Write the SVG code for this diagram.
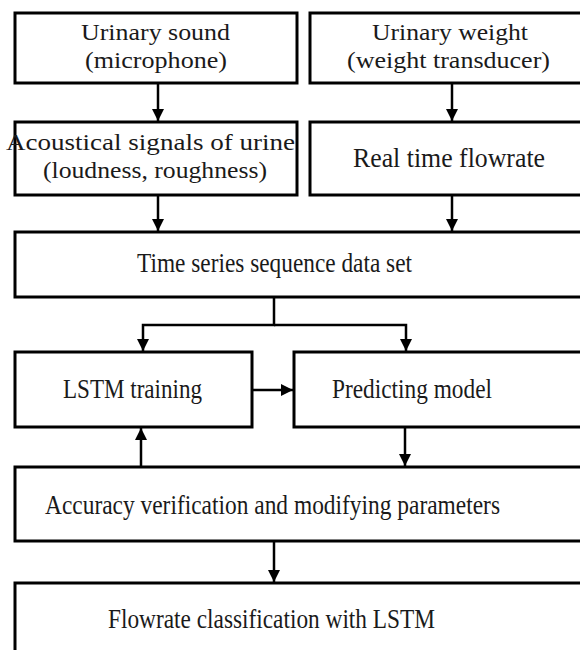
<svg xmlns="http://www.w3.org/2000/svg" width="580" height="650" viewBox="0 0 580 650">
<defs>
<marker id="ah" viewBox="0 0 12 12" markerWidth="12" markerHeight="12" refX="12" refY="6" orient="auto" markerUnits="userSpaceOnUse">
<path d="M0,0 L12,6 L0,12 Z" fill="#000"/>
</marker>
<style>
.box{fill:#fff;stroke:#000;stroke-width:3}
.c{fill:none;stroke:#000;stroke-width:2.5}
</style>
</defs>
<rect width="580" height="650" fill="#fff"/>
<g id="connectors">
<path class="c" d="M158,83 V121" marker-end="url(#ah)"/>
<path class="c" d="M452,83 V121" marker-end="url(#ah)"/>
<path class="c" d="M158,195 V231" marker-end="url(#ah)"/>
<path class="c" d="M452,195 V231" marker-end="url(#ah)"/>
<path class="c" d="M274,297 V325 H143 V351" marker-end="url(#ah)"/>
<path class="c" d="M274,325 H406 V351" marker-end="url(#ah)"/>
<path class="c" d="M252,390 H293" marker-end="url(#ah)"/>
<path class="c" d="M141,467 V428" marker-end="url(#ah)"/>
<path class="c" d="M405,427 V466" marker-end="url(#ah)"/>
<path class="c" d="M274,541 V582" marker-end="url(#ah)"/>
</g>
<g font-family="Liberation Serif, serif" font-size="27" fill="#1a1a1a" text-anchor="middle">
<g id="n1" font-size="24"><rect class="box" x="15" y="13" width="282" height="70"/><text x="155.5" y="40" textLength="149" lengthAdjust="spacingAndGlyphs">Urinary sound</text><text x="156" y="68" textLength="142" lengthAdjust="spacingAndGlyphs">(microphone)</text></g>
<g id="n2" font-size="24"><rect class="box" x="310" y="13" width="285" height="70"/><text x="450" y="40" textLength="156" lengthAdjust="spacingAndGlyphs">Urinary weight</text><text x="448.5" y="68" textLength="203" lengthAdjust="spacingAndGlyphs">(weight transducer)</text></g>
<g id="n3" font-size="24"><rect class="box" x="15" y="122" width="282" height="73"/><text x="150.5" y="150" textLength="289" lengthAdjust="spacingAndGlyphs">Acoustical signals of urine</text><text x="155" y="178" textLength="224" lengthAdjust="spacingAndGlyphs">(loudness, roughness)</text></g>
<g id="n4"><rect class="box" x="310" y="122" width="285" height="73"/><text x="449" y="167" textLength="192" lengthAdjust="spacingAndGlyphs">Real time flowrate</text></g>
<g id="n5"><rect class="box" x="15" y="232" width="580" height="65"/><text x="274.5" y="272" textLength="275" lengthAdjust="spacingAndGlyphs">Time series sequence data set</text></g>
<g id="n6"><rect class="box" x="15" y="352" width="237" height="75"/><text x="132.5" y="398" textLength="139" lengthAdjust="spacingAndGlyphs">LSTM training</text></g>
<g id="n7"><rect class="box" x="294" y="352" width="301" height="75"/><text x="412" y="398" textLength="160" lengthAdjust="spacingAndGlyphs">Predicting model</text></g>
<g id="n8"><rect class="box" x="15" y="467" width="580" height="74"/><text x="272.5" y="514" textLength="455" lengthAdjust="spacingAndGlyphs">Accuracy verification and modifying parameters</text></g>
<g id="n9"><rect class="box" x="15" y="583" width="580" height="80"/><text x="271.5" y="628" textLength="327" lengthAdjust="spacingAndGlyphs">Flowrate classification with LSTM</text></g>
</g>
</svg>
